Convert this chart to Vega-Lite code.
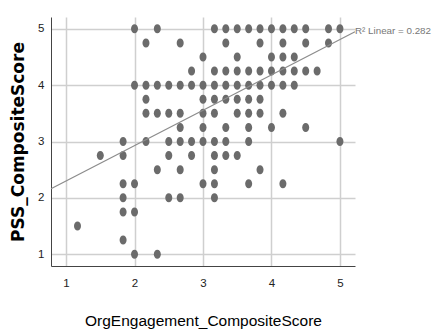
{
  "$schema": "https://vega.github.io/schema/vega-lite/v6.json",
  "width": 304,
  "height": 249,
  "autosize": {"type": "none"},
  "padding": {"left": 51, "top": 17, "right": 77, "bottom": 68},
  "background": "white",
  "config": {
    "view": {"stroke": null},
    "axis": {
      "grid": true,
      "gridColor": "#cfcfcf",
      "gridWidth": 1.5,
      "domainColor": "#444444",
      "domainWidth": 1,
      "ticks": false,
      "format": "d",
      "labelFont": "Liberation Sans",
      "labelFontSize": 11.5,
      "labelColor": "#222222",
      "titleColor": "#000000"
    }
  },
  "datasets": {
    "pts": [
      {"org": 2, "pss": 5}, {"org": 2.333, "pss": 5}, {"org": 3.167, "pss": 5}, {"org": 3.333, "pss": 5}, {"org": 3.5, "pss": 5}, {"org": 3.667, "pss": 5}, {"org": 3.833, "pss": 5}, {"org": 4, "pss": 5}, {"org": 4.167, "pss": 5}, {"org": 4.333, "pss": 5}, {"org": 4.5, "pss": 5}, {"org": 4.833, "pss": 5}, {"org": 5, "pss": 5},
      {"org": 2.167, "pss": 4.75}, {"org": 2.667, "pss": 4.75}, {"org": 3.333, "pss": 4.75}, {"org": 3.833, "pss": 4.75}, {"org": 4.167, "pss": 4.75}, {"org": 4.5, "pss": 4.75}, {"org": 4.833, "pss": 4.75},
      {"org": 3, "pss": 4.5}, {"org": 3.5, "pss": 4.5}, {"org": 4, "pss": 4.5}, {"org": 4.167, "pss": 4.5}, {"org": 4.333, "pss": 4.5},
      {"org": 2.833, "pss": 4.25}, {"org": 3.167, "pss": 4.25}, {"org": 3.333, "pss": 4.25}, {"org": 3.5, "pss": 4.25}, {"org": 3.667, "pss": 4.25}, {"org": 3.833, "pss": 4.25}, {"org": 4, "pss": 4.25}, {"org": 4.167, "pss": 4.25}, {"org": 4.333, "pss": 4.25}, {"org": 4.5, "pss": 4.25}, {"org": 4.667, "pss": 4.25},
      {"org": 2, "pss": 4}, {"org": 2.167, "pss": 4}, {"org": 2.333, "pss": 4}, {"org": 2.5, "pss": 4}, {"org": 2.667, "pss": 4}, {"org": 2.833, "pss": 4}, {"org": 3, "pss": 4}, {"org": 3.167, "pss": 4}, {"org": 3.333, "pss": 4}, {"org": 3.5, "pss": 4}, {"org": 3.667, "pss": 4}, {"org": 3.833, "pss": 4}, {"org": 4, "pss": 4}, {"org": 4.167, "pss": 4}, {"org": 4.333, "pss": 4},
      {"org": 2.167, "pss": 3.75}, {"org": 3, "pss": 3.75}, {"org": 3.167, "pss": 3.75}, {"org": 3.333, "pss": 3.75}, {"org": 3.5, "pss": 3.75}, {"org": 3.667, "pss": 3.75}, {"org": 3.833, "pss": 3.75},
      {"org": 2.167, "pss": 3.5}, {"org": 2.333, "pss": 3.5}, {"org": 2.5, "pss": 3.5}, {"org": 2.667, "pss": 3.5}, {"org": 3, "pss": 3.5}, {"org": 3.167, "pss": 3.5}, {"org": 3.5, "pss": 3.5}, {"org": 3.667, "pss": 3.5}, {"org": 3.833, "pss": 3.5}, {"org": 4.167, "pss": 3.5},
      {"org": 2.667, "pss": 3.25}, {"org": 3, "pss": 3.25}, {"org": 3.333, "pss": 3.25}, {"org": 3.667, "pss": 3.25}, {"org": 4, "pss": 3.25}, {"org": 4.5, "pss": 3.25},
      {"org": 1.833, "pss": 3}, {"org": 2.167, "pss": 3}, {"org": 2.5, "pss": 3}, {"org": 2.667, "pss": 3}, {"org": 2.833, "pss": 3}, {"org": 3, "pss": 3}, {"org": 3.167, "pss": 3}, {"org": 3.333, "pss": 3}, {"org": 3.667, "pss": 3}, {"org": 5, "pss": 3},
      {"org": 1.5, "pss": 2.75}, {"org": 1.833, "pss": 2.75}, {"org": 2.5, "pss": 2.75}, {"org": 2.833, "pss": 2.75}, {"org": 3.167, "pss": 2.75}, {"org": 3.333, "pss": 2.75}, {"org": 3.5, "pss": 2.75},
      {"org": 2.333, "pss": 2.5}, {"org": 2.667, "pss": 2.5}, {"org": 3.167, "pss": 2.5}, {"org": 3.833, "pss": 2.5},
      {"org": 1.833, "pss": 2.25}, {"org": 2, "pss": 2.25}, {"org": 3, "pss": 2.25}, {"org": 3.167, "pss": 2.25}, {"org": 3.667, "pss": 2.25}, {"org": 4.167, "pss": 2.25},
      {"org": 1.833, "pss": 2}, {"org": 2.5, "pss": 2}, {"org": 2.667, "pss": 2}, {"org": 3.167, "pss": 2},
      {"org": 1.833, "pss": 1.75}, {"org": 2, "pss": 1.75},
      {"org": 1.167, "pss": 1.5},
      {"org": 1.833, "pss": 1.25},
      {"org": 2, "pss": 1}, {"org": 2.333, "pss": 1}
    ],
    "fit": [
      {"org": 0.78, "pss": 2.16},
      {"org": 5.22, "pss": 4.947}
    ],
    "lbl": [
      {"org": 5.22, "pss": 4.947, "text": "R² Linear = 0.282"}
    ]
  },
  "layer": [
    {
      "data": {"name": "pts"},
      "mark": {
        "type": "point",
        "filled": true,
        "opacity": 1,
        "color": "#6b6b6b",
        "size": 81,
        "shape": "M-0.78,0 A0.78,1 0 1,0 0.78,0 A0.78,1 0 1,0 -0.78,0 Z"
      },
      "encoding": {
        "x": {
          "field": "org",
          "type": "quantitative",
          "scale": {"domain": [0.78, 5.22], "nice": false, "zero": false},
          "axis": {
            "values": [1, 2, 3, 4, 5],
            "title": "OrgEngagement_CompositeScore",
            "titleFont": "Liberation Sans",
            "titleFontSize": 15.5,
            "titleFontWeight": "normal",
            "titlePadding": 25,
            "labelPadding": 11
          }
        },
        "y": {
          "field": "pss",
          "type": "quantitative",
          "scale": {"domain": [0.79, 5.21], "nice": false, "zero": false},
          "axis": {
            "values": [1, 2, 3, 4, 5],
            "title": "PSS_CompositeScore",
            "titleFont": "DejaVu Sans",
            "titleFontSize": 17,
            "titleFontWeight": "bold",
            "titlePadding": 10,
            "labelPadding": 7
          }
        }
      }
    },
    {
      "data": {"name": "fit"},
      "mark": {"type": "line", "color": "#8c8c8c", "strokeWidth": 1.2},
      "encoding": {
        "x": {"field": "org", "type": "quantitative"},
        "y": {"field": "pss", "type": "quantitative"}
      }
    },
    {
      "data": {"name": "lbl"},
      "mark": {
        "type": "text",
        "align": "left",
        "baseline": "middle",
        "dx": 0,
        "dy": -1,
        "font": "Liberation Sans",
        "fontSize": 9.8,
        "color": "#777777"
      },
      "encoding": {
        "x": {"field": "org", "type": "quantitative"},
        "y": {"field": "pss", "type": "quantitative"},
        "text": {"field": "text"}
      }
    }
  ]
}
